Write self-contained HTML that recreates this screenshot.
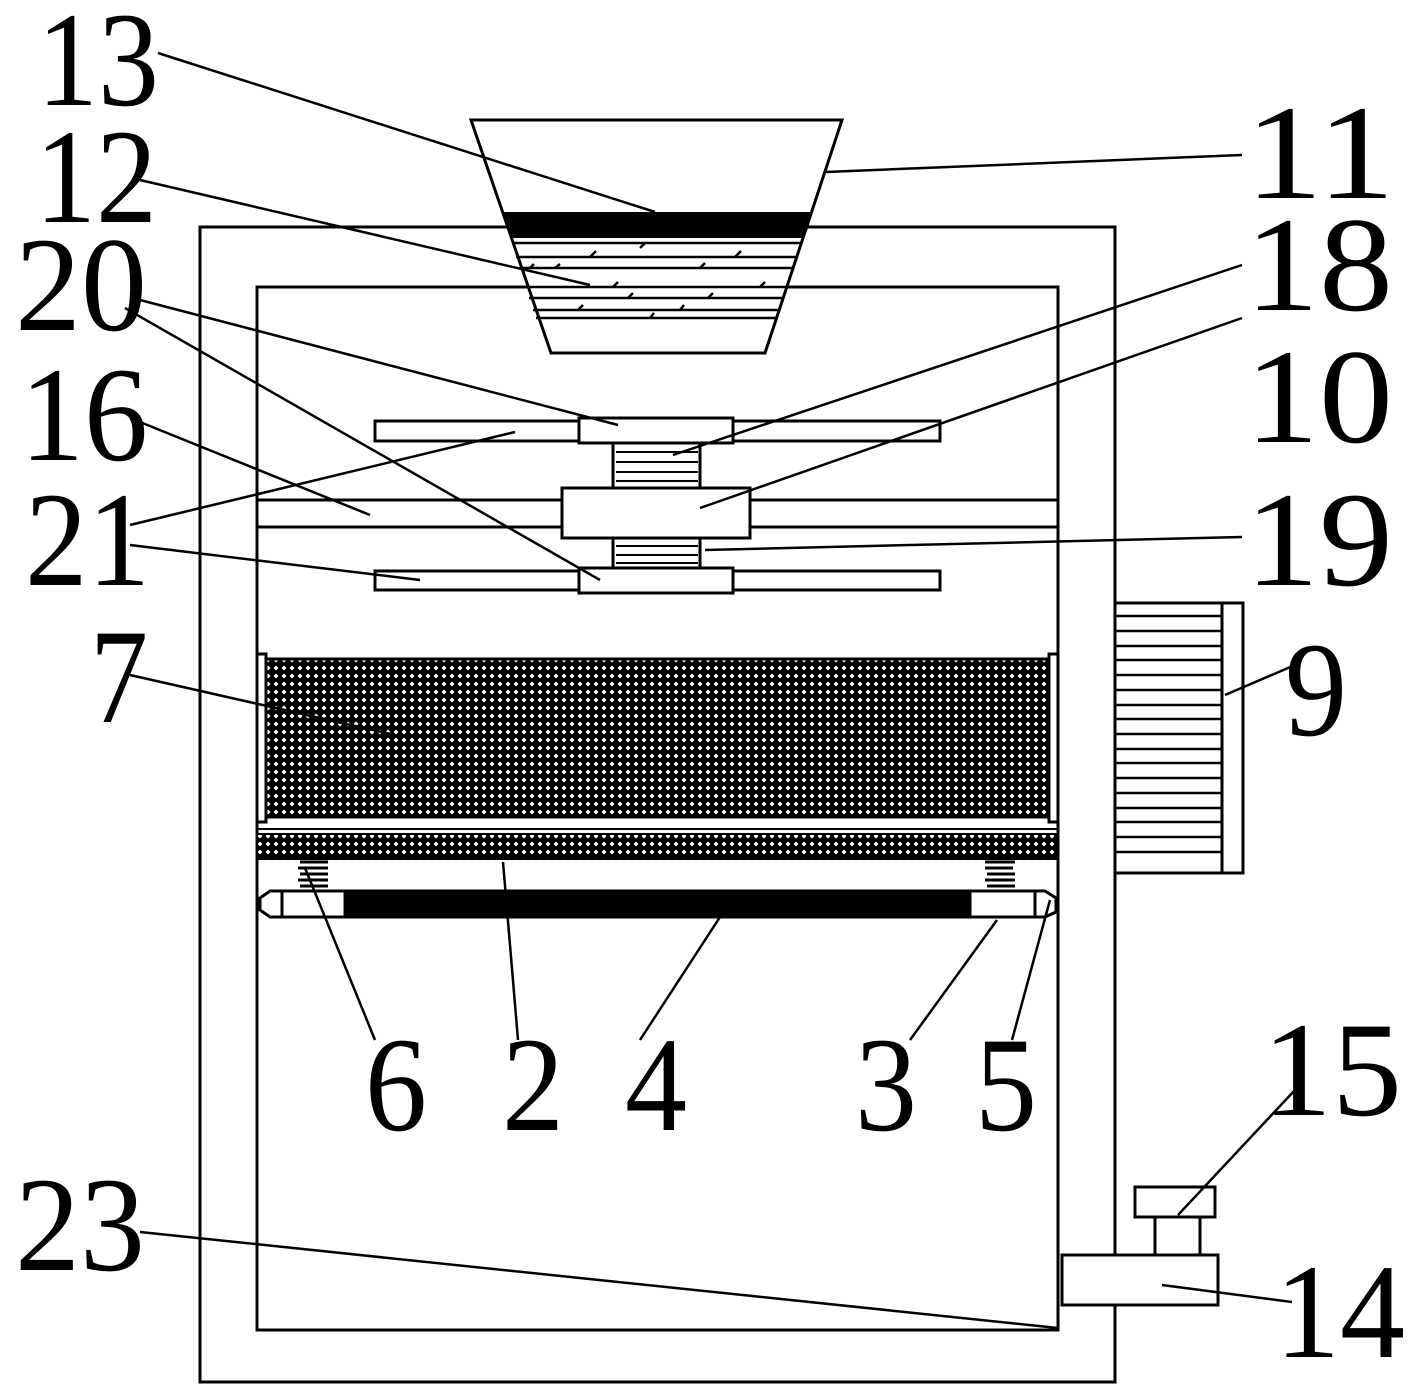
<!DOCTYPE html>
<html><head><meta charset="utf-8"><style>html,body{margin:0;padding:0;background:#fff}svg{display:block}</style></head>
<body>
<svg width="1422" height="1398" viewBox="0 0 1422 1398" xmlns="http://www.w3.org/2000/svg">
<defs>
<pattern id="mesh" width="8" height="8" patternUnits="userSpaceOnUse">
<rect width="8" height="8" fill="#000"/>
<path d="M4 1.5 L6.5 4 L4 6.5 L1.5 4 Z" fill="#fff"/>
</pattern>
</defs>
<g fill="none" stroke="#000" stroke-width="3">
<rect x="200" y="227" width="915" height="1155"/>
<rect x="257" y="287" width="801" height="1043" fill="#fff"/>
<polygon points="471,120 842,120 765,353 551,353" fill="#fff"/>
<polygon points="503,212 810,212 802,238 511,238" fill="#000" stroke="none"/>
<g stroke-width="2.5">
<line x1="512" y1="243" x2="801" y2="243"/><line x1="516" y1="257" x2="797" y2="257"/>
<line x1="519" y1="268" x2="793" y2="268"/><line x1="525" y1="287" x2="787" y2="287"/>
<line x1="529" y1="298" x2="784" y2="298"/><line x1="533" y1="310" x2="780" y2="310"/>
<line x1="536" y1="318" x2="777" y2="318"/>
<path d="M640 248l5-5M590 257l6-6M735 257l6-6M700 268l5-5M555 268l5-4M613 287l5-5M760 287l5-5M628 298l5-5M708 298l5-5M578 310l5-5M680 310l4-5M650 318l4-5M530 268l4-4"/>
</g>
<rect x="375" y="421" width="565" height="20" fill="#fff"/>
<rect x="375" y="571" width="565" height="19" fill="#fff"/>
<rect x="613" y="443" width="87" height="45" fill="#fff"/>
<rect x="613" y="538" width="87" height="30" fill="#fff"/>
<g stroke-width="2"><path d="M616 452h82M616 462h82M616 472h82M616 481h82M616 546h82M616 555h82M616 563h82"/></g>
<rect x="579" y="418" width="154" height="25" fill="#fff"/>
<rect x="579" y="568" width="154" height="25" fill="#fff"/>
<rect x="257" y="500" width="801" height="27" fill="#fff"/>
<rect x="562" y="488" width="188" height="50" fill="#fff"/>
<rect x="266" y="659" width="782" height="158" fill="url(#mesh)"/>
<rect x="257" y="654" width="9" height="168" fill="#fff"/>
<rect x="1049" y="654" width="9" height="168" fill="#fff"/>
<line x1="257" y1="829" x2="1058" y2="829" stroke-width="2"/>
<rect x="257" y="834" width="801" height="25" fill="url(#mesh)" stroke-width="2"/>
<path d="M300 862h28M298 868h30M300 874h28M298 880h30M300 886h28M985 862h30M985 868h28M987 874h28M985 880h30M987 886h28" stroke-width="3"/>
<path d="M270 891 H1045 L1056 898 V912 L1045 917 H270 L260 910 V898 Z" fill="#fff"/>
<rect x="345" y="891" width="625" height="26" fill="#000"/>
<line x1="282" y1="891" x2="282" y2="917"/><line x1="1035" y1="891" x2="1035" y2="917"/>
<rect x="1115" y="603" width="107" height="270" fill="#fff"/>
<rect x="1222" y="603" width="21" height="270" fill="#fff"/>
<path d="M1115 616h107M1115 631h107M1115 646h107M1115 660h107M1115 675h107M1115 690h107M1115 705h107M1115 719h107M1115 734h107M1115 749h107M1115 763h107M1115 778h107M1115 793h107M1115 808h107M1115 822h107M1115 837h107M1115 852h107" stroke-width="2.5"/>
<rect x="1062" y="1255" width="156" height="50" fill="#fff"/>
<rect x="1155" y="1217" width="45" height="38" fill="#fff"/>
<rect x="1135" y="1187" width="80" height="30" fill="#fff"/>
</g>
<g stroke="#000" stroke-width="2.5" fill="none">
<line x1="158" y1="53" x2="655" y2="212"/>
<line x1="140" y1="180" x2="590" y2="285"/>
<line x1="1242" y1="155" x2="826" y2="172"/>
<line x1="1242" y1="265" x2="673" y2="455"/>
<line x1="140" y1="300" x2="618" y2="425"/>
<line x1="125" y1="308" x2="600" y2="580"/>
<line x1="1242" y1="318" x2="700" y2="508"/>
<line x1="135" y1="420" x2="370" y2="515"/>
<line x1="1242" y1="537" x2="705" y2="550"/>
<line x1="130" y1="525" x2="515" y2="432"/>
<line x1="130" y1="545" x2="420" y2="580"/>
<line x1="130" y1="675" x2="395" y2="735"/>
<line x1="1295" y1="665" x2="1225" y2="695"/>
<line x1="375" y1="1040" x2="305" y2="868"/>
<line x1="518" y1="1040" x2="503" y2="862"/>
<line x1="640" y1="1040" x2="720" y2="917"/>
<line x1="910" y1="1040" x2="997" y2="920"/>
<line x1="1012" y1="1040" x2="1050" y2="900"/>
<line x1="1295" y1="1090" x2="1178" y2="1215"/>
<line x1="1292" y1="1302" x2="1162" y2="1285"/>
<line x1="140" y1="1232" x2="1058" y2="1328"/>
</g>
<g font-family="'Liberation Serif', serif" font-size="135" fill="#000">
<text x="37" y="105" textLength="122" lengthAdjust="spacingAndGlyphs">13</text>
<text x="35" y="222" textLength="122" lengthAdjust="spacingAndGlyphs">12</text>
<text x="15" y="330" textLength="132" lengthAdjust="spacingAndGlyphs">20</text>
<text x="20" y="460" textLength="128" lengthAdjust="spacingAndGlyphs">16</text>
<text x="25" y="585" textLength="125" lengthAdjust="spacingAndGlyphs">21</text>
<text x="90" y="722" textLength="58" lengthAdjust="spacingAndGlyphs">7</text>
<text x="1245" y="198" textLength="150" lengthAdjust="spacingAndGlyphs">11</text>
<text x="1245" y="310" textLength="148" lengthAdjust="spacingAndGlyphs">18</text>
<text x="1245" y="442" textLength="148" lengthAdjust="spacingAndGlyphs">10</text>
<text x="1245" y="585" textLength="148" lengthAdjust="spacingAndGlyphs">19</text>
<text x="1285" y="735" textLength="62" lengthAdjust="spacingAndGlyphs">9</text>
<text x="365" y="1130" textLength="62" lengthAdjust="spacingAndGlyphs">6</text>
<text x="502" y="1130" textLength="62" lengthAdjust="spacingAndGlyphs">2</text>
<text x="625" y="1130" textLength="62" lengthAdjust="spacingAndGlyphs">4</text>
<text x="855" y="1130" textLength="62" lengthAdjust="spacingAndGlyphs">3</text>
<text x="975" y="1130" textLength="62" lengthAdjust="spacingAndGlyphs">5</text>
<text x="1262" y="1115" textLength="140" lengthAdjust="spacingAndGlyphs">15</text>
<text x="15" y="1270" textLength="130" lengthAdjust="spacingAndGlyphs">23</text>
<text x="1275" y="1357" textLength="130" lengthAdjust="spacingAndGlyphs">14</text>
</g>
</svg>
</body></html>
